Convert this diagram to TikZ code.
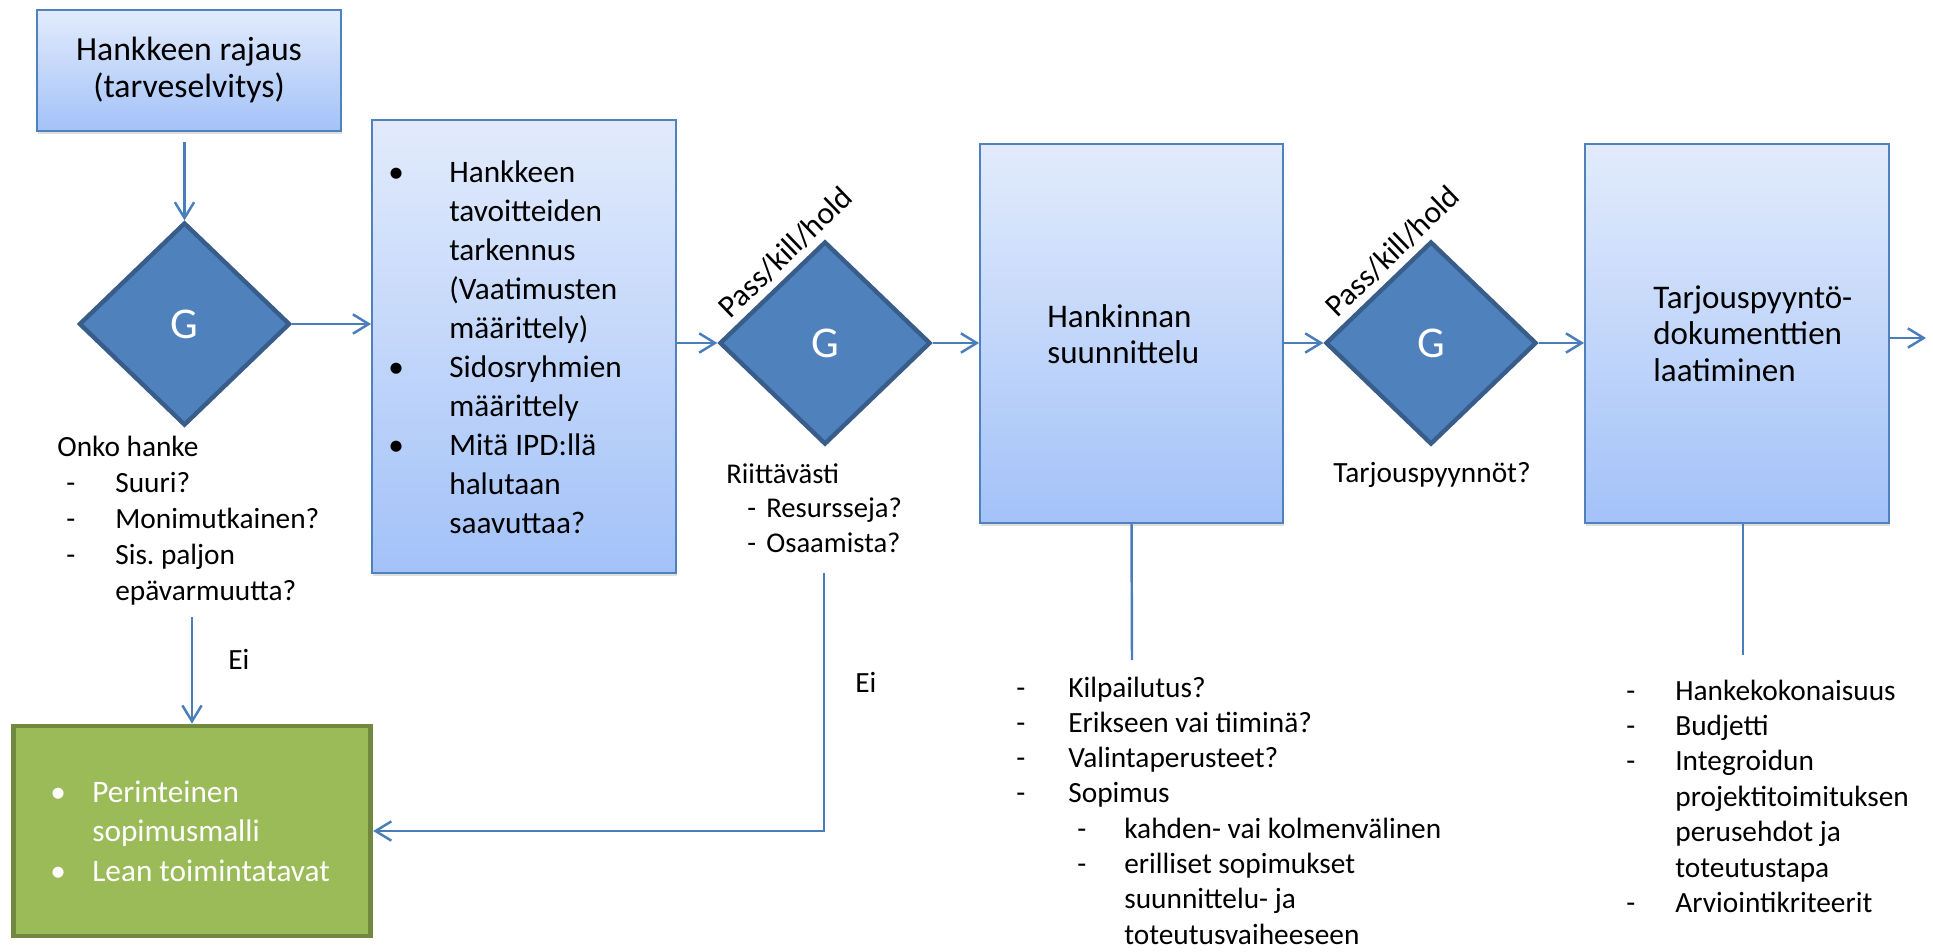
\documentclass[tikz,border=0pt]{standalone}
\usepackage{fontspec}
\setmainfont{Carlito}
\usetikzlibrary{shapes.geometric,arrows.meta,shadows}
\definecolor{boxtop}{HTML}{E2EBFC}
\definecolor{boxbot}{HTML}{A3C2F8}
\definecolor{boxline}{HTML}{4F81BD}
\definecolor{gatefill}{HTML}{4F81BD}
\definecolor{gateline}{HTML}{385D8A}
\definecolor{arrowc}{HTML}{4A7EBB}
\definecolor{leanfill}{HTML}{9BBB59}
\definecolor{leanline}{HTML}{71893F}
\newcommand{\lead}[2][1cm]{\makebox[#1][l]{#2}}
\frenchspacing

\begin{document}
\begin{tikzpicture}[x=0.02cm,y=-0.02cm,
	phase/.style={draw=boxline,line width=1.1pt,top color=boxtop,bottom color=boxbot,inner sep=0pt,
		drop shadow={opacity=0.25,shadow xshift=0.6pt,shadow yshift=-1.6pt}},
	gate/.style={diamond,draw=gateline,line width=2.5pt,fill=gatefill,text=white,inner sep=0pt,
		minimum width=4.22cm,minimum height=4.06cm,font=\fontsize{25}{30}\selectfont},
	conn/.style={draw=arrowc,line width=1.4pt,-{Straight Barb[length=9pt,width=11pt]}},
	link/.style={draw=arrowc,line width=1.4pt},
	txt/.style={anchor=base west,inner sep=0pt,text width=12cm,align=flush left},
	passlbl/.style={sloped,above,inner sep=3.5pt,font=\fontsize{17.9}{21}\selectfont}]
	\useasboundingbox (0,0) rectangle (1933,951);

	\node[phase,minimum width=6.08cm,minimum height=2.42cm] (box1) at (189,70.5) {};
	\node[txt,text width=6cm,align=flush center,anchor=base,font=\fontsize{19.2}{21.6}\selectfont] (need) at (189,60) {Hankkeen rajaus\\(tarveselvitys)};
	\node[gate] (d1) at (184.5,324) {G};
	\node[phase,minimum width=6.08cm,minimum height=9.06cm] (box2) at (524,346.5) {};
	\node[gate] (d2) at (825,343) {G};
	\node[phase,minimum width=6.06cm,minimum height=7.58cm] (box3) at (1131.5,333.5) {};
	\node[gate] (d3) at (1431,343) {G};
	\node[phase,minimum width=6.08cm,minimum height=7.58cm] (box4) at (1737,333.5) {};
	\node[draw=leanline,line width=2.8pt,fill=leanfill,minimum width=7.15cm,minimum height=4.2cm] (lean) at (192,831) {};

	\path (d2.west) -- (d2.north) node[passlbl,pos=0.75] (pkh2) {Pass/kill/hold};
	\path (d3.west) -- (d3.north) node[passlbl,pos=0.76] (pkh3) {Pass/kill/hold};

	\node[txt,font=\fontsize{17.8}{22.25}\selectfont] (goals) at (388,182) {\lead[1.22cm]{\textbullet}Hankkeen\\
		\lead[1.22cm]{}tavoitteiden\\ \lead[1.22cm]{}tarkennus\\ \lead[1.22cm]{}(Vaatimusten\\ \lead[1.22cm]{}määrittely)\\
		\lead[1.22cm]{\textbullet}Sidosryhmien\\ \lead[1.22cm]{}määrittely\\
		\lead[1.22cm]{\textbullet}Mitä IPD:llä\\ \lead[1.22cm]{}halutaan\\ \lead[1.22cm]{}saavuttaa?};
	\node[txt,font=\fontsize{18.8}{21.05}\selectfont] (proc) at (1047,327) {Hankinnan\\suunnittelu};
	\node[txt,font=\fontsize{18.8}{21.05}\selectfont] (docs) at (1653,308) {Tarjouspyyntö-\\dokumenttien\\laatiminen};
	\node[txt,text=white,font=\fontsize{17.8}{22.5}\selectfont] (leantxt) at (50,802) {\lead[0.84cm]{\textbullet}Perinteinen\\
		\lead[0.84cm]{}sopimusmalli\\ \lead[0.84cm]{\textbullet}Lean toimintatavat};

	\node[txt,font=\fontsize{16.7}{20.5}\selectfont] (q1) at (57,456.6) {Onko hanke\\
		\lead[1.16cm]{\hspace{0.18cm}-}Suuri?\\ \lead[1.16cm]{\hspace{0.18cm}-}Monimutkainen?\\
		\lead[1.16cm]{\hspace{0.18cm}-}Sis. paljon\\ \lead[1.16cm]{}epävarmuutta?};
	\node[txt,font=\fontsize{16.3}{19.9}\selectfont] (q2) at (726,483) {Riittävästi\\
		\lead[0.8cm]{\hspace{0.42cm}-}Resursseja?\\ \lead[0.8cm]{\hspace{0.42cm}-}Osaamista?};
	\node[txt,font=\fontsize{16.7}{20}\selectfont] (q3) at (1333,482) {Tarjouspyynnöt?};
	\node[txt,font=\fontsize{16.7}{20}\selectfont] (ei1) at (228,669) {Ei};
	\node[txt,font=\fontsize{16.7}{20}\selectfont] (ei2) at (855,692) {Ei};

	\node[txt,font=\fontsize{16.7}{20.1}\selectfont] (procl) at (1016,697) {\lead[1.04cm]{-}Kilpailutus?\\
		\lead[1.04cm]{-}Erikseen vai tiiminä?\\ \lead[1.04cm]{-}Valintaperusteet?\\ \lead[1.04cm]{-}Sopimus\\
		\lead[2.16cm]{\hspace{1.22cm}-}kahden- vai kolmenvälinen\\ \lead[2.16cm]{\hspace{1.22cm}-}erilliset sopimukset\\
		\lead[2.16cm]{}suunnittelu- ja\\ \lead[2.16cm]{}toteutusvaiheeseen};
	\node[txt,font=\fontsize{16.7}{20.2}\selectfont] (docsl) at (1626,700) {\lead[0.98cm]{-}Hankekokonaisuus\\
		\lead[0.98cm]{-}Budjetti\\ \lead[0.98cm]{-}Integroidun\\ \lead[0.98cm]{}projektitoimituksen\\
		\lead[0.98cm]{}perusehdot ja\\ \lead[0.98cm]{}toteutustapa\\ \lead[0.98cm]{-}Arviointikriteerit};

	\draw[conn,shorten <=0.2cm] (d1.north |- box1.south) -- (d1.north);
	\draw[conn] (d1.east) -- (d1.east -| box2.west);
	\draw[conn] (box2.east |- d2.west) -- (d2.west);
	\draw[conn] (d2.east) -- (d2.east -| box3.west);
	\draw[conn] (box3.east |- d3.west) -- (d3.west);
	\draw[conn] (d3.east) -- (d3.east -| box4.west);
	\coordinate (next) at (1926,338);
	\draw[conn] (box4.east |- next) -- (next);
	\coordinate (noA) at (192,617);
	\draw[conn] (noA) -- (noA |- lean.north);
	\coordinate (noB) at (824,573);
	\draw[conn] (noB) |- (lean.east);
	\coordinate (procB) at (1132,660);
	\draw[link] (box3.south) -- (procB);
	\coordinate (docB) at (1743,655);
	\draw[link] (docB |- box4.south) -- (docB);
\end{tikzpicture}
\end{document}
